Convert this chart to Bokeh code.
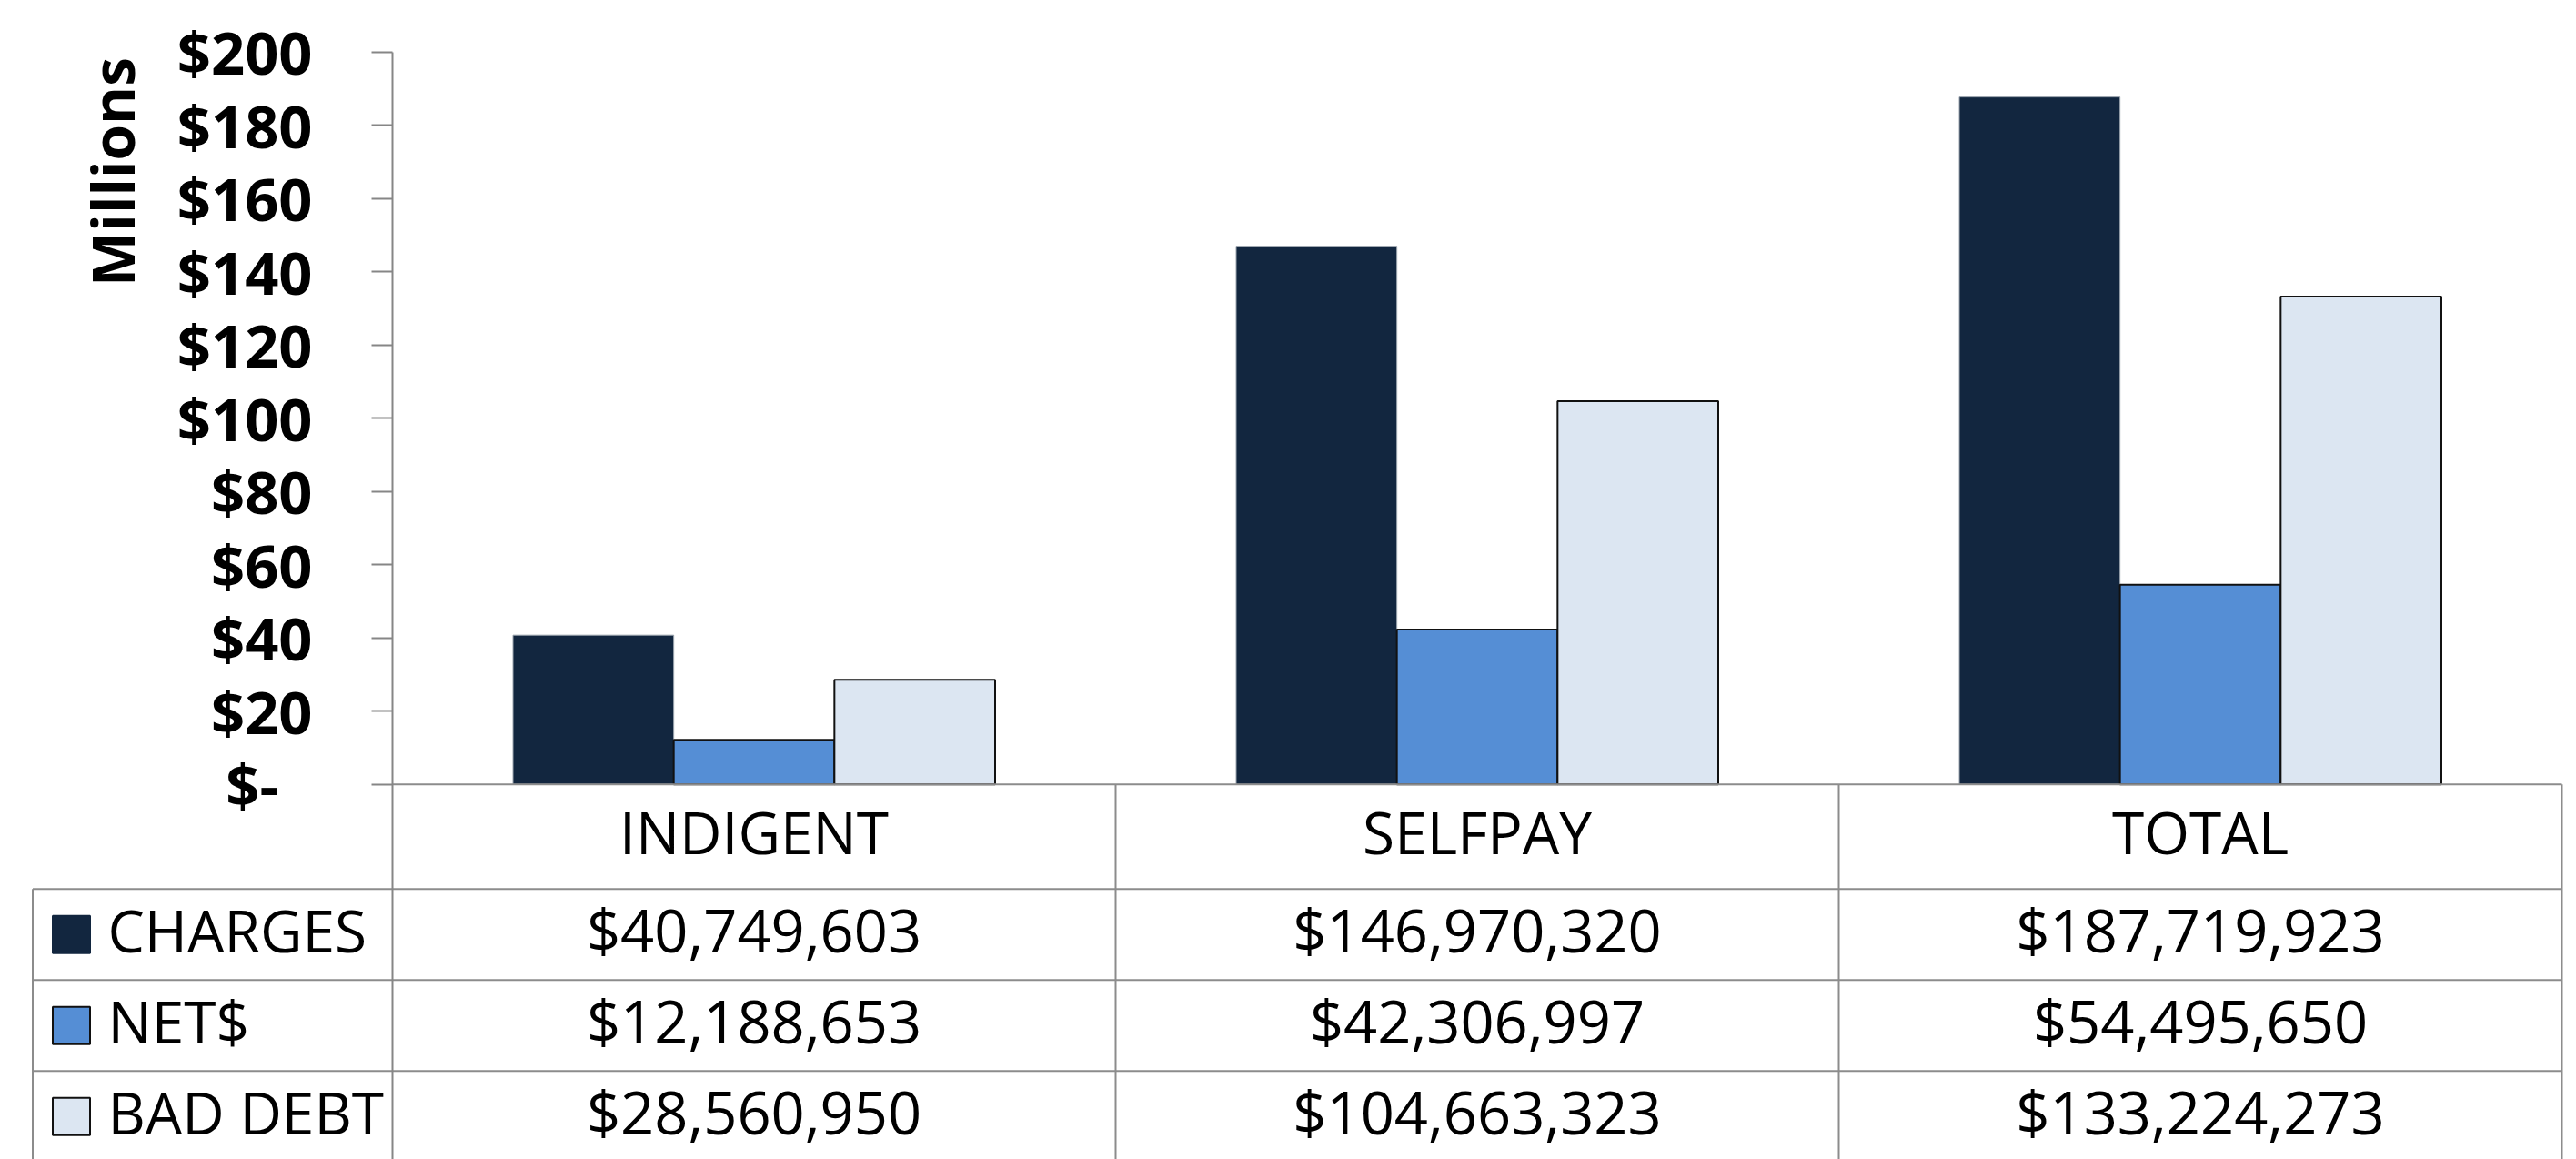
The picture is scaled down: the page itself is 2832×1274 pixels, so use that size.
import numpy as np
from bokeh.plotting import figure
from bokeh.models import Range1d, FixedTicker, Label
from bokeh.core.properties import value
from bokeh.embed import file_html
from bokeh.resources import INLINE

# ---------------- data ----------------
categories = ["INDIGENT", "SELFPAY", "TOTAL"]
series_names = ["CHARGES", "NET$", "BAD DEBT"]
charges = [40749603, 146970320, 187719923]
net_dollars = [12188653, 42306997, 54495650]
bad_debt = [28560950, 104663323, 133224273]
y_ticks = [0, 20, 40, 60, 80, 100, 120, 140, 160, 180, 200]
y_tick_labels = ["$-\u2007", "$20", "$40", "$60", "$80", "$100", "$120", "$140", "$160", "$180", "$200"]
y_axis_title = "Millions"
series_colors = ["#12263F", "#558ED5", "#DCE6F2"]
series_lines = ["#9aa3ad", "#111111", "#111111"]
series_line_widths = [1, 2, 2]

# ---------------- layout constants (pixels -> data units) ----------------
PX_X = 795.0            # pixels per category
PX_Y = 4.025            # pixels per million
X_LEFT = -(431 - 34) / PX_X
X_RIGHT = (2820 - 431) / PX_X
Y_TOP = 200 + 56.7 / PX_Y
Y_BOTTOM = 200 - (1274 - 56.7) / PX_Y
HEADER_H = 115.0 / PX_Y
ROW_H = 100.0 / PX_Y
TEXT_LIFT = 5.0 / PX_Y
BAR_W = 1 / 4.5
TABLE_LEFT = -(431 - 35.5) / PX_X
SWATCH_X = -(431 - 78) / PX_X
LEGEND_TEXT_X = -(431 - 118) / PX_X

FONT = "Open Sans"
GRID = "#8c8c8c"

p = figure(width=2832, height=1274, title=None,
           x_range=Range1d(X_LEFT, X_RIGHT), y_range=Range1d(Y_BOTTOM, Y_TOP),
           output_backend="svg", toolbar_location=None,
           min_border_left=34, min_border_right=12, min_border_top=0, min_border_bottom=0)
p.xaxis.visible = False
p.xgrid.visible = False
p.ygrid.visible = False
p.outline_line_color = None
p.background_fill_color = "white"
p.border_fill_color = "white"

ya = p.yaxis[0]
ya.fixed_location = 0
ya.bounds = (Y_BOTTOM, 200)
ya.ticker = FixedTicker(ticks=y_ticks)
ya.major_label_overrides = {t: lab for t, lab in zip(y_ticks, y_tick_labels)}
ya.major_tick_out = 23
ya.major_tick_in = 0
ya.minor_tick_out = 0
ya.minor_tick_in = 0
ya.axis_line_color = "#868686"
ya.axis_line_width = 2
ya.major_tick_line_color = "#868686"
ya.major_tick_line_width = 2
ya.major_label_text_font = FONT
ya.major_label_text_font_style = "bold"
ya.major_label_text_font_size = "65px"
ya.major_label_text_color = "black"
ya.major_label_standoff = 65

# axis title, placed near the top of the value axis
p.add_layout(Label(x=-(431 - 123) / PX_X, y=200 - (188.5 - 56.7) / PX_Y, text=y_axis_title,
                   angle=np.pi / 2, text_align="center", text_baseline="middle",
                   text_font=FONT, text_font_style="bold", text_font_size="64px",
                   text_color="black"))

# ---------------- bars ----------------
all_series = [charges, net_dollars, bad_debt]
for j, vals in enumerate(all_series):
    xs = [i + 0.5 + (j - 1) * BAR_W for i in range(len(categories))]
    tops = [v / 1e6 for v in vals]
    p.vbar(x=xs, top=tops, bottom=0, width=BAR_W,
           fill_color=series_colors[j], line_color=series_lines[j],
           line_width=series_line_widths[j])

# ---------------- data table ----------------
n_cat = len(categories)
row_tops = [-HEADER_H - k * ROW_H for k in range(len(series_names))]
row_centers = [t - ROW_H / 2 for t in row_tops]
header_center = -HEADER_H / 2

x0s, y0s, x1s, y1s = [], [], [], []
x0s.append(0); y0s.append(0); x1s.append(n_cat); y1s.append(0)
for t in row_tops:
    x0s.append(TABLE_LEFT); y0s.append(t); x1s.append(n_cat); y1s.append(t)
x0s.append(TABLE_LEFT); y0s.append(-HEADER_H); x1s.append(TABLE_LEFT); y1s.append(Y_BOTTOM)
for k in range(1, n_cat + 1):
    x0s.append(k); y0s.append(0); x1s.append(k); y1s.append(Y_BOTTOM)
p.segment(x0=x0s, y0=y0s, x1=x1s, y1=y1s, line_color=GRID, line_width=2)

cat_x = [i + 0.5 for i in range(n_cat)]
p.text(x=cat_x, y=[header_center + TEXT_LIFT] * n_cat, text=categories,
       text_font=value(FONT), text_font_size=value("64px"),
       text_align="center", text_baseline="middle", text_color="black")

tx, ty, tt = [], [], []
for j, vals in enumerate(all_series):
    for i, v in enumerate(vals):
        tx.append(cat_x[i]); ty.append(row_centers[j] + TEXT_LIFT); tt.append("${:,}".format(v))
p.text(x=tx, y=ty, text=tt, text_font=value(FONT), text_font_size=value("65px"),
       text_align="center", text_baseline="middle", text_color="black")

# legend keys
p.scatter(x=[SWATCH_X] * 3, y=row_centers, marker="square", size=41,
          fill_color=series_colors, line_color=["#12263F", "#111111", "#111111"], line_width=2)
p.text(x=[LEGEND_TEXT_X] * 3, y=[c + TEXT_LIFT for c in row_centers], text=series_names,
       text_font=value(FONT), text_font_size=value("64px"),
       text_align="left", text_baseline="middle", text_color="black")

open("out.html", "w").write(file_html(p, INLINE))
